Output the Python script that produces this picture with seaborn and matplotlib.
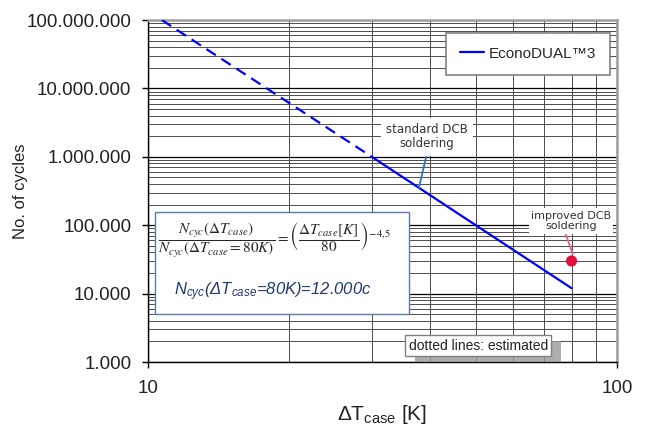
import seaborn as sns
import matplotlib.pyplot as plt
import matplotlib.patheffects as pe
from matplotlib.patches import Rectangle
from matplotlib.ticker import FixedLocator, LogLocator, NullFormatter

# valores
dashed_dt = [10.7, 30.0]
dashed_cycles = [1.0e8, 1.0e6]
solid_dt = [30.0, 80.0]
solid_cycles = [1.0e6, 12000]
improved_dt = [80.0]
improved_cycles = [30000]

x_ticks = [10, 100]
x_tick_labels = ["10", "100"]
y_ticks = [1e3, 1e4, 1e5, 1e6, 1e7, 1e8]
y_tick_labels = ["1.000", "10.000", "100.000", "1.000.000", "10.000.000", "100.000.000"]

sns.set_style("ticks")
plt.rcParams['font.family'] = ['Liberation Sans', 'DejaVu Sans']
plt.rcParams['mathtext.fontset'] = 'custom'
plt.rcParams['mathtext.rm'] = 'Liberation Sans'
plt.rcParams['mathtext.it'] = 'Liberation Sans:italic'

fig = plt.figure(figsize=(6.45, 4.25), dpi=100)
ax = fig.add_axes([0.2295, 0.1482, 0.7271, 0.8047])
ax.set_xscale('log')
ax.set_yscale('log')

sns.lineplot(x=dashed_dt, y=dashed_cycles, ax=ax, color='#0000ff', lw=1.6,
             linestyle=(0, (5, 3)), zorder=3)
sns.lineplot(x=solid_dt, y=solid_cycles, ax=ax, color='#0000ff', lw=1.6, zorder=3)
solid_line = ax.lines[-1]
sns.scatterplot(x=improved_dt, y=improved_cycles, ax=ax, color='#e0103a', s=65,
                edgecolor='none', zorder=6)

ax.set_xlim(10, 100)
ax.set_ylim(1e3, 1e8)
ax.xaxis.set_major_locator(FixedLocator(x_ticks))
ax.set_xticklabels(x_tick_labels)
ax.xaxis.set_minor_locator(LogLocator(base=10, subs=range(2, 10)))
ax.xaxis.set_minor_formatter(NullFormatter())
ax.yaxis.set_major_locator(FixedLocator(y_ticks))
ax.set_yticklabels(y_tick_labels)
ax.yaxis.set_minor_locator(LogLocator(base=10, subs=range(2, 10), numticks=20))
ax.yaxis.set_minor_formatter(NullFormatter())

ax.set_axisbelow(True)
ax.grid(which='major', color='black', lw=0.9)
ax.grid(which='minor', color='#4d4d4d', lw=0.7)
ax.tick_params(which='minor', length=0)
ax.tick_params(which='major', length=4, width=1, color='black', labelsize=13.5,
               labelcolor='#222222')
ax.tick_params(axis='y', pad=8)
ax.tick_params(axis='x', pad=9)

for s in ['left', 'bottom']:
    ax.spines[s].set_color('black')
    ax.spines[s].set_linewidth(1)
for s in ['top', 'right']:
    ax.spines[s].set_visible(True)
    ax.spines[s].set_color('#a0a0a0')
    ax.spines[s].set_linewidth(1.8)

ax.set_xlabel("ΔT$_{\\rm case}$ [K]", fontsize=15, color='#222222')
ax.xaxis.set_label_coords(0.5, -0.12)
ax.set_ylabel("No. of cycles", fontsize=12, color='#222222')
ax.yaxis.set_label_coords(-0.256, 0.5)

leg = ax.legend(handles=[solid_line], labels=["EconoDUAL™3"], loc='upper right',
                bbox_to_anchor=(0.985, 0.962), borderaxespad=0, fontsize=11,
                handlelength=1.6, fancybox=False, edgecolor='#808080',
                framealpha=1, borderpad=0.9, handletextpad=0.3)
leg.get_frame().set_linewidth(1.2)
leg.set_zorder(7)

# caixa da equação
ax.add_patch(Rectangle((0.015, 0.14), 0.5415, 0.2986, transform=ax.transAxes,
                       facecolor='white', edgecolor='#5b7ba6', lw=1, zorder=4))
ax.text(0.2687, 0.357,
        r"$\dfrac{N_{cyc}(\Delta T_{case})}{N_{cyc}(\Delta T_{case}=80K)}"
        r"=\left(\dfrac{\Delta T_{case}[K]}{80}\right)^{-4{,}5}$",
        transform=ax.transAxes, ha='center', va='center', fontsize=11,
        math_fontfamily='stix', zorder=5)
ax.text(0.265, 0.205, "N$_{\\mathit{cyc}}$(ΔT$_{\\mathit{case}}$=80K)=12.000c",
        transform=ax.transAxes, ha='center', va='center', fontsize=12,
        style='italic', color='#1f3a6e', zorder=5)

# anotações
ax.annotate("standard DCB\nsoldering", xy=(37.8, 3.5e5), xytext=(39.3, 1.95e6),
            ha='center', va='center', fontsize=8.5, family='DejaVu Sans',
            color='#333333', linespacing=1.1,
            bbox=dict(boxstyle='square,pad=0.45', fc='white', ec='none'),
            arrowprops=dict(arrowstyle='-', color='#2e75b6', lw=1.3,
                            relpos=(0.51, 0), shrinkA=0, shrinkB=0), zorder=5)
ax.annotate("improved DCB\nsoldering", xy=(80.5, 3.8e4), xytext=(79.8, 1.15e5),
            ha='center', va='center', fontsize=8, family='DejaVu Sans',
            color='#333333', linespacing=1.1,
            bbox=dict(boxstyle='square,pad=0.2', fc='white', ec='none'),
            arrowprops=dict(arrowstyle='-', color='#e8607a', lw=1.3,
                            relpos=(0.42, 0), shrinkA=0, shrinkB=0), zorder=5)

t = ax.text(0.704, 0.047, "dotted lines: estimated", transform=ax.transAxes,
            ha='center', va='center', fontsize=10, color='#222222', zorder=5,
            bbox=dict(boxstyle='square,pad=0.25', fc='white', ec='#808080', lw=1))
t.get_bbox_patch().set_path_effects([
    pe.SimplePatchShadow(offset=(7, -4), shadow_rgbFace='#999999', alpha=0.8),
    pe.Normal()])

plt.savefig('out.png', dpi=100)
